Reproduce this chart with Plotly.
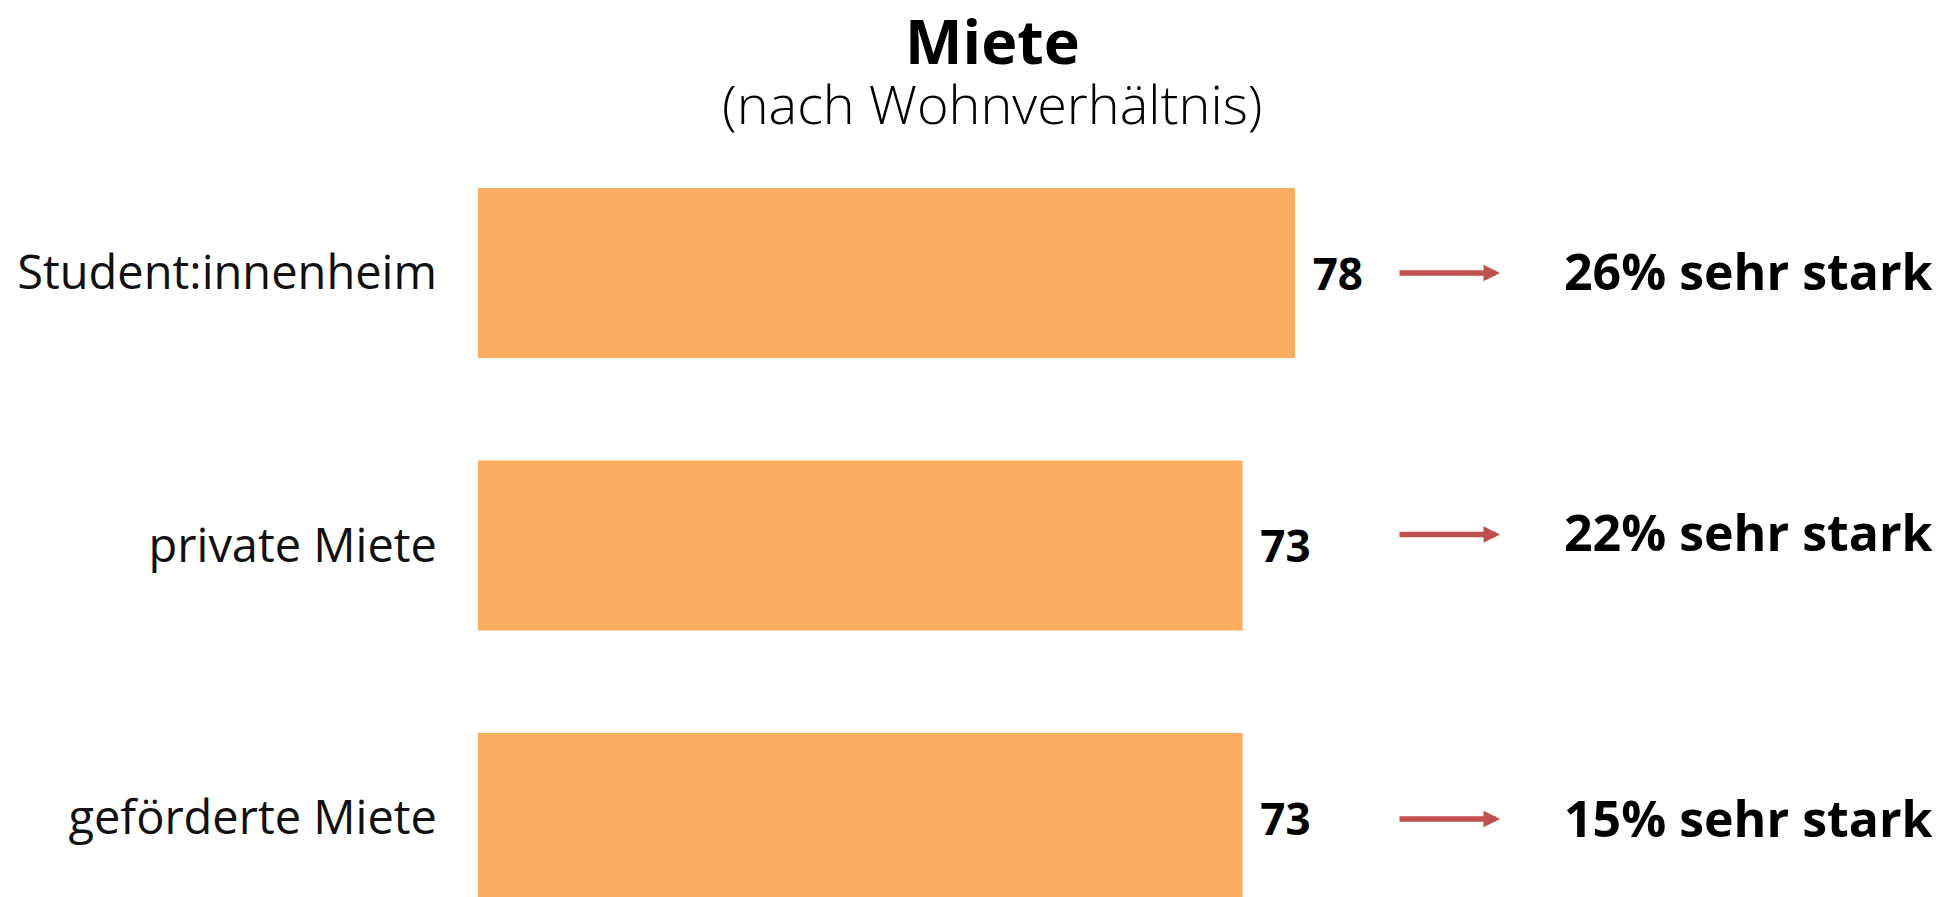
import plotly.graph_objects as go

# ---- data ----
categories = ["Student:innenheim", "private Miete", "geförderte Miete"]
values = [78, 73, 73]
sehr_stark = [26, 22, 15]
title_text = "Miete"
subtitle_text = "(nach Wohnverhältnis)"

# ---- style ----
BAR = "#FBAE62"
ARROW = "#C0504D"
FONT = "Open Sans"
W, H = 1952, 897
L, T = 478, 140
plot_w, plot_h = W - L, H - T

def px_x(px):  # paper x from pixel
    return (px - L) / plot_w

def px_y(py):  # paper y from pixel
    return (H - py) / plot_h

fig = go.Figure()
fig.add_trace(go.Bar(
    x=values, y=categories, orientation="h",
    marker=dict(color=BAR, line=dict(width=0)),
    text=values, texttemplate="\u2004%{x}", textposition="outside",
    textfont=dict(family=FONT, size=44, color="black", weight=700),
    hoverinfo="skip",
))

arrow_shift = [0, 11, -1]
text_shift = [2, 13, 0]
annotations = [
    dict(text="<b>" + title_text + "</b>", x=px_x(992), y=px_y(41), xref="paper", yref="paper",
         xanchor="center", yanchor="middle", showarrow=False,
         font=dict(family=FONT, size=61, color="black")),
    dict(text=subtitle_text, x=px_x(992), y=px_y(103), xref="paper", yref="paper",
         xanchor="center", yanchor="middle", showarrow=False,
         font=dict(family=FONT, size=54, color="black", weight=300)),
]
for i, cat in enumerate(categories):
    annotations.append(dict(
        text="", x=px_x(1500), y=cat, xref="paper", yref="y",
        ax=-102, ay=0, axref="pixel", ayref="pixel", yshift=arrow_shift[i],
        showarrow=True, arrowhead=2, arrowsize=0.6, arrowwidth=5.5, arrowcolor=ARROW,
        standoff=0, startstandoff=0))
    annotations.append(dict(
        text=f"<b>{sehr_stark[i]}% sehr stark</b>", x=px_x(1748), y=cat, xref="paper", yref="y",
        xanchor="center", yanchor="middle", yshift=text_shift[i], showarrow=False,
        font=dict(family=FONT, size=50, color="black")))

fig.update_layout(
    width=W, height=H,
    margin=dict(l=L, r=0, t=T, b=0, pad=0),
    paper_bgcolor="white", plot_bgcolor="white",
    bargap=0.376, showlegend=False,
    xaxis=dict(range=[0, plot_w / (817 / 78)], visible=False, fixedrange=True),
    yaxis=dict(type="category", range=[2.29, -0.488], showgrid=False, zeroline=False,
               showline=False, ticks="", ticklabelstandoff=40,
               tickfont=dict(family=FONT, size=47, color="#111111", weight=400),
               fixedrange=True),
    annotations=annotations,
)

fig.write_html("out.html", config={"displayModeBar": False},
               post_script="document.body.style.margin='0';document.body.style.overflow='hidden';")
